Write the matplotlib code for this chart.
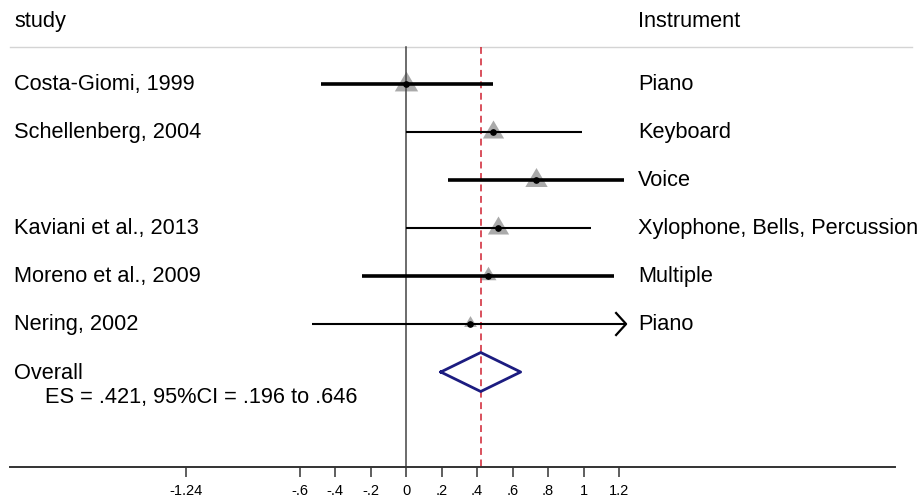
import matplotlib
matplotlib.use("Agg")
import matplotlib.pyplot as plt
from matplotlib.path import Path
import numpy as np

plt.rcParams["font.family"] = ["Liberation Sans", "DejaVu Sans"]

# dados
estudos = ["Costa-Giomi, 1999", "Schellenberg, 2004", "", "Kaviani et al., 2013",
           "Moreno et al., 2009", "Nering, 2002"]
instrumentos = ["Piano", "Keyboard", "Voice", "Xylophone, Bells, Percussion",
                "Multiple", "Piano"]
es = [0.00, 0.49, 0.73, 0.52, 0.46, 0.36]
ic_inf = [-0.48, 0.00, 0.235, 0.00, -0.25, -0.53]
ic_sup = [0.49, 0.99, 1.23, 1.045, 1.17, 1.30]
pesos = [23.1, 19.1, 21.1, 19.1, 10.7, 6.9]

es_total = 0.421
ic_total = (0.196, 0.646)

ticks = [-1.24, -0.6, -0.4, -0.2, 0, 0.2, 0.4, 0.6, 0.8, 1, 1.2]
tick_labels = ["-1.24", "-.6", "-.4", "-.2", "0", ".2", ".4", ".6", ".8", "1", "1.2"]
x_max = 1.24  # limite do eixo -> seta

W, H = 921, 498
Y_EIXO = 467
fig = plt.figure(figsize=(W / 100, H / 100), dpi=100)
ax = fig.add_axes([10 / W, (H - Y_EIXO) / H, (895 - 10) / W, Y_EIXO / H])

px = 177.5  # pixels por unidade de ES
ax.set_xlim((10 - 406) / px, (895 - 406) / px)
row_px = 48.0
y_top = -84 / row_px
y_bot = (Y_EIXO - 84) / row_px
ax.set_ylim(y_bot, y_top)

for s in ["top", "left", "right"]:
    ax.spines[s].set_visible(False)
ax.spines["bottom"].set_linewidth(1.4)
ax.spines["bottom"].set_color("#333333")
ax.set_yticks([])
ax.set_xticks(ticks)
ax.set_xticklabels(tick_labels, fontsize=10.5)
ax.tick_params(axis="x", direction="out", length=7.5, width=1.1, color="#333333", pad=5)

def xpix(v):
    return ax.get_xlim()[0] + v / px

y_head = (47 - 84) / row_px
ax.plot([xpix(0), xpix(902)], [y_head, y_head], color="#d4d4d4", lw=1, clip_on=False)

# linhas de referência
ax.plot([0, 0], [y_head, y_bot], color="#444444", lw=1.1)
ax.plot([es_total, es_total], [y_head, y_bot], color="#d02030", lw=1.1,
        dashes=(4.5, 3))

x_txt_l = xpix(4)
x_txt_r = xpix(628)
fs = 15.7

ax.text(x_txt_l, (21 - 84) / row_px, "study", fontsize=fs, va="center", ha="left")
ax.text(x_txt_r, (21 - 84) / row_px, "Instrument", fontsize=fs, va="center", ha="left")

tri = Path([(0, 0.85), (-1, -0.85), (1, -0.85), (0, 0.85)])
larguras = [2.6, 1.5, 2.6, 1.5, 2.6, 1.5]
for i in range(len(es)):
    hi = min(ic_sup[i], x_max)
    ax.plot([ic_inf[i], hi], [i, i], color="black", lw=larguras[i],
            solid_capstyle="butt", zorder=2)
    if ic_sup[i] > x_max:
        dx, dy = 10 / px, 11 / row_px
        ax.plot([x_max - dx, x_max, x_max - dx], [i - dy, i, i + dy],
                color="black", lw=1.6, zorder=2)
    ms = 3.5 * np.sqrt(pesos[i])
    ax.plot(es[i], i - 0.06, marker=tri, ms=ms, color="#aaaaaa",
            markeredgewidth=0, zorder=1.5)
    ax.plot(es[i], i, marker="o", ms=3.8, color="black", zorder=4)
    ax.text(x_txt_l, i, estudos[i], fontsize=fs, va="center", ha="left")
    ax.text(x_txt_r, i, instrumentos[i], fontsize=fs, va="center", ha="left")

# diamante geral
y_d = len(es)
h = 19.5 / row_px
ax.plot([ic_total[0], es_total, ic_total[1], es_total, ic_total[0]],
        [y_d, y_d - h, y_d, y_d + h, y_d], color="#1c1c80", lw=2, zorder=3)
ax.text(x_txt_l, (373 - 84) / row_px, "Overall", fontsize=fs, va="center", ha="left")
ax.text(xpix(35), (397 - 84) / row_px,
        f"ES = {es_total:.3f}, 95%CI = {ic_total[0]:.3f} to {ic_total[1]:.3f}".replace("0.", "."),
        fontsize=fs, va="center", ha="left")

fig.savefig("out.png", dpi=100)
